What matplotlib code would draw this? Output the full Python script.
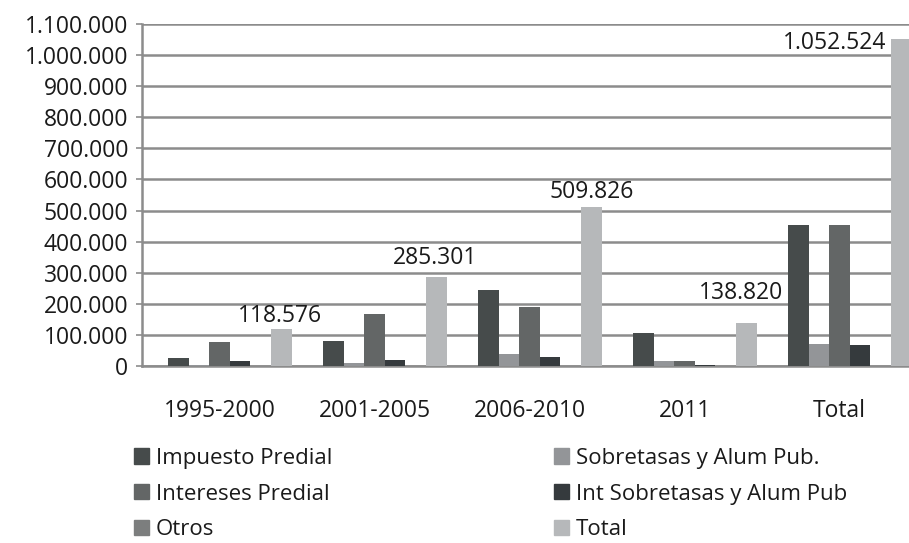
import numpy as np
import matplotlib.pyplot as plt
from matplotlib.patches import Patch

plt.rcParams["font.family"] = ["Open Sans", "DejaVu Sans"]

CATEGORIES = ["1995-2000", "2001-2005", "2006-2010", "2011", "Total"]
SERIES = [
    "Impuesto Predial",
    "Sobretasas y Alum Pub.",
    "Intereses Predial",
    "Int Sobretasas y Alum Pub",
    "Otros",
    "Total",
]
IMPUESTO = [25000, 82000, 245000, 105000, 455000]
SOBRETASAS = [3000, 10000, 40000, 15000, 72000]
INTERESES = [77000, 168000, 190000, 15000, 455000]
INT_SOBRETASAS = [15000, 19000, 29000, 3000, 68000]
OTROS = [0, 0, 0, 0, 0]
TOTAL = [118576, 285301, 509826, 138820, 1052524]
TOTAL_LABELS = ["118.576", "285.301", "509.826", "138.820", "1.052.524"]
YTICKS = np.arange(0, 1100001, 100000)
YTICK_LABELS = ["0", "100.000", "200.000", "300.000", "400.000", "500.000",
                "600.000", "700.000", "800.000", "900.000", "1.000.000", "1.100.000"]

COLORS = ["#464b4b", "#939598", "#636666", "#353a3d", "#7c7e7e", "#b6b8ba"]
GRID = "#8c8c8c"
TEXT = "#1a1a1a"
FS = 16.5
LEG_FS = 16


def px(v):
    return v * 72 / 100


def main():
    fig = plt.figure(figsize=(9.09, 5.43), dpi=100)
    ax = fig.add_axes([142 / 909, 177 / 543, 775 / 909, 342 / 543])

    values = [IMPUESTO, SOBRETASAS, INTERESES, INT_SOBRETASAS, OTROS, TOTAL]
    x = np.arange(len(CATEGORIES))
    n_slots = 7  # excel left an empty first slot in each group
    w = 0.93 / n_slots
    for i, (vals, color) in enumerate(zip(values, COLORS)):
        offs = (i + 1 - (n_slots - 1) / 2) * w
        ax.bar(x + offs, vals, width=w, color=color, zorder=3, linewidth=0)

    # data labels on the Total series
    tot_x = x + (6 - (n_slots - 1) / 2) * w
    label_off = [(-1, 13), (-1, 19), (0, 15), (-5, 30)]
    for k in range(4):
        dx, dy = label_off[k]
        ax.annotate(TOTAL_LABELS[k], (tot_x[k], TOTAL[k]), xytext=(px(dx), px(dy)),
                    textcoords="offset points", ha="center", va="center",
                    fontsize=FS, color=TEXT, zorder=4)
    ax.annotate(TOTAL_LABELS[4], (tot_x[4] - w / 2, TOTAL[4]), xytext=(px(-5), px(-4)),
                textcoords="offset points", ha="right", va="center",
                fontsize=FS, color=TEXT, zorder=4)

    ax.set_xlim(-0.5, len(CATEGORIES) - 0.5)
    ax.set_ylim(0, 1100000)
    ax.set_yticks(YTICKS)
    ax.set_yticklabels(YTICK_LABELS)
    ax.set_xticks(x)
    ax.set_xticklabels(CATEGORIES)
    ax.tick_params(axis="x", length=0, pad=24, labelsize=FS, colors=TEXT)
    ax.tick_params(axis="y", length=4, width=1.2, color=GRID, pad=6, labelsize=FS, labelcolor=TEXT)

    ax.yaxis.grid(True, color=GRID, linewidth=1.8, zorder=0)
    ax.set_axisbelow(True)
    for side in ["top", "right"]:
        ax.spines[side].set_visible(False)
    ax.spines["left"].set_color(GRID)
    ax.spines["left"].set_linewidth(1.8)
    ax.spines["bottom"].set_color(GRID)
    ax.spines["bottom"].set_linewidth(1.8)

    order = [0, 2, 4, 1, 3, 5]
    handles = [Patch(color=COLORS[i]) for i in order]
    labels = [SERIES[i] for i in order]
    fig.legend(handles, labels, loc="upper left", bbox_to_anchor=(125 / 909, 1 - 439 / 543),
               ncol=2, frameon=False, fontsize=LEG_FS, handlelength=0.68, handleheight=0.68,
               handletextpad=0.3, columnspacing=10.0, labelspacing=0.66,
               labelcolor=TEXT, borderaxespad=0)

    fig.savefig("out.png", dpi=100)


if __name__ == "__main__":
    main()
